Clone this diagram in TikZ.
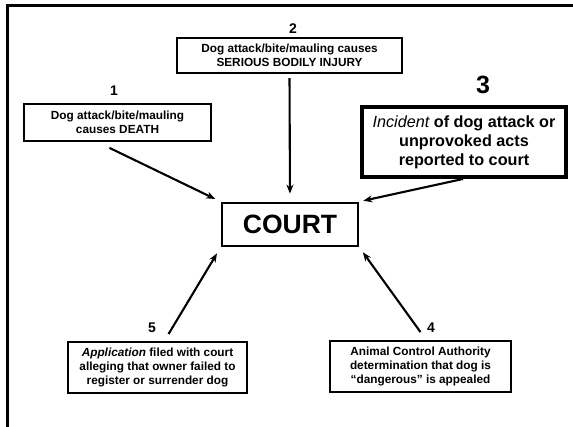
\documentclass[tikz,border=0pt]{standalone}
\usepackage{fontspec}
\setmainfont{Liberation Sans}
\usetikzlibrary{arrows.meta}

\tikzset{
  srcbox/.style={draw, line width=1.8pt, align=center, inner sep=0pt,
    font=\fontsize{11.8}{14}\selectfont\bfseries},
  bigbox/.style={draw, line width=3.5pt, align=center, inner sep=0pt,
    font=\fontsize{16.2}{19}\selectfont\bfseries},
  courtbox/.style={draw, line width=2.8pt, inner sep=0pt,
    font=\fontsize{26.5}{30}\selectfont\bfseries},
  num/.style={inner sep=0pt, font=\fontsize{14}{16}\selectfont\bfseries},
  arr/.style={line width=2.1pt, -{Stealth[length=9pt,width=7pt]}}
}

\begin{document}
\begin{tikzpicture}[x=1pt,y=-1pt]
  \useasboundingbox (0,0) rectangle (573,427);
  \clip (0,0) rectangle (573,427);
  % frame
  \draw[line width=2.5pt] (7.5,440) -- (7.5,5.3) -- (590,5.3);

  \node[courtbox, minimum width=136pt, minimum height=43pt] (court) at (290,224.5) {COURT};

  \node[srcbox, minimum width=187pt, minimum height=37pt] (death) at (117.5,122.5)
    {Dog attack/bite/mauling\\causes DEATH};
  \node[srcbox, minimum width=225.5pt, minimum height=35.5pt] (injury) at (289.5,55.5)
    {Dog attack/bite/mauling causes\\SERIOUS BODILY INJURY};
  \node[bigbox, minimum width=204pt, minimum height=70pt] (incident) at (464,142)
    {{\normalfont\itshape Incident} of dog attack or\\unprovoked acts\\reported to court};
  \node[srcbox, minimum width=181pt, minimum height=51pt] (appeal) at (420.5,366.5)
    {Animal Control Authority\\determination that dog is\\``dangerous'' is appealed};
  \node[srcbox, minimum width=179pt, minimum height=51pt] (application) at (157.5,367.5)
    {\textit{Application} filed with court\\alleging that owner failed to\\register or surrender dog};

  \node[num] (n1) at (114,91) {1};
  \node[num] (n2) at (293,29) {2};
  \node[num, font=\fontsize{25}{28}\selectfont\bfseries] (n3) at (483,85) {3};
  \node[num] (n4) at (431,328) {4};
  \node[num] (n5) at (152,328) {5};

  \draw[arr, shorten >=6pt] ([xshift=-8pt,yshift=-6pt]death.south) -- (court.north west);
  \draw[arr, shorten <=4pt, shorten >=8pt] (injury.south) -- (court.north);
  \draw[arr, shorten <=1pt, shorten >=4pt] (incident.south) -- (court.north east);
  \draw[arr, shorten >=6pt] ([yshift=8pt]appeal.north) -- (court.south east);
  \draw[arr, shorten >=7pt] ([xshift=11pt,yshift=7pt]application.north) -- (court.south west);
\end{tikzpicture}
\end{document}
